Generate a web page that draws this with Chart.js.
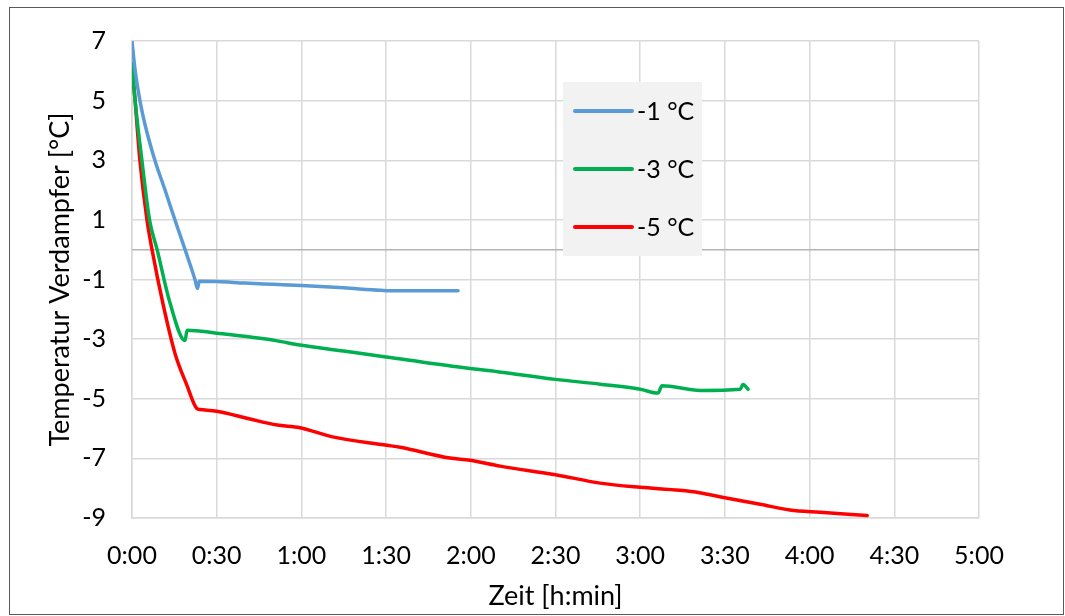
<!DOCTYPE html>
<html lang="de">
<head>
<meta charset="UTF-8">
<title>Temperatur Verdampfer</title>
<script src="https://cdn.jsdelivr.net/npm/chart.js"></script>
<style>
  html, body { margin: 0; padding: 0; background: #fff; }
  #wrap { width: 1065px; height: 616px; }
</style>
<script>
// Zeit in Minuten, Temperatur in °C
const t1 = [0, 1, 2.8, 4.6, 8.1, 11.7, 15.2, 18.8, 22.3, 23.2, 23.8, 30, 40, 50, 60, 75, 88, 93, 105, 115.5];
const v1 = [7, 6.1, 5, 4.2, 3, 2, 1, 0, -1, -1.3, -1.06, -1.07, -1.12, -1.16, -1.2, -1.28, -1.36, -1.38, -1.38, -1.38];

const t2 = [0, 1.1, 3.5, 6.2, 8.9, 13.5, 18.8, 19.5, 30, 51, 59.5, 75, 90, 115, 130, 150, 165.8, 180, 186.3, 187.7, 201.2, 215.4, 216.4, 218.2];
const v2 = [6.25, 5, 3, 1, 0, -1.8, -3.05, -2.7, -2.8, -3.05, -3.2, -3.4, -3.6, -3.93, -4.1, -4.35, -4.51, -4.68, -4.81, -4.56, -4.72, -4.68, -4.52, -4.68];

const t3 = [0, 1.1, 2.8, 5.3, 7.1, 11, 15.2, 19.5, 23, 24.1, 30, 41.8, 51.4, 59.5, 71, 90.3, 95, 112.6, 119.7, 130.4, 150, 165.8, 180, 194, 201, 210, 222.5, 233, 243.7, 260.4];
const v3 = [6.2, 5, 3, 1, 0, -1.83, -3.47, -4.56, -5.33, -5.36, -5.42, -5.68, -5.88, -5.97, -6.28, -6.56, -6.63, -6.99, -7.06, -7.26, -7.55, -7.83, -7.97, -8.07, -8.15, -8.32, -8.54, -8.73, -8.81, -8.92];

const seriesNames = ['-1 °C', '-3 °C', '-5 °C'];
const seriesColors = ['#5b9bd5', '#00b050', '#ff0000'];

const xMin = 0, xMax = 300, xStep = 30;
const yMin = -9, yMax = 7, yStep = 2;

function toPoints(ts, vs) {
    return ts.map((t, i) => ({ x: t, y: vs[i] }));
}

function fmtTime(m) {
    const h = Math.floor(m / 60);
    const mm = Math.round(m % 60);
    return h + ':' + (mm < 10 ? '0' + mm : mm);
}

const FONT = 'Lato, "Open Sans", sans-serif';

// Rahmen um das ganze Diagramm
const framePlugin = {
    id: 'frame',
    afterDraw(chart) {
        const c = chart.ctx;
        c.save();
        c.strokeStyle = '#595959';
        c.lineWidth = 1;
        c.strokeRect(9.5, 7.5, 1054, 607);
        c.restore();
    }
};

// Null-Linie etwas dunkler
const zeroPlugin = {
    id: 'zeroLine',
    beforeDatasetsDraw(chart) {
        const c = chart.ctx;
        const y = chart.scales.y.getPixelForValue(0);
        const a = chart.chartArea;
        c.save();
        c.strokeStyle = '#b4b4b4';
        c.lineWidth = 1.5;
        c.beginPath();
        c.moveTo(a.left, y);
        c.lineTo(a.right, y);
        c.stroke();
        c.restore();
    }
};

// Legende als Kasten im Diagramm
const boxLegend = {
    id: 'boxLegend',
    afterDraw(chart) {
        const c = chart.ctx;
        c.save();
        c.fillStyle = '#f2f2f2';
        c.fillRect(563, 82, 139, 174);
        const rows = [111, 169, 227];
        chart.data.datasets.forEach((ds, i) => {
            c.strokeStyle = ds.borderColor;
            c.lineWidth = 4;
            c.lineCap = 'round';
            c.beginPath();
            c.moveTo(575, rows[i]);
            c.lineTo(632, rows[i]);
            c.stroke();
            c.fillStyle = '#000';
            c.font = '25px ' + FONT;
            c.textBaseline = 'middle';
            c.textAlign = 'left';
            c.fillText(ds.label, 637, rows[i] + 1);
        });
        c.restore();
    }
};

window.addEventListener('load', function () {
    const ctx = document.getElementById('myChart');
    const datasets = [toPoints(t1, v1), toPoints(t2, v2), toPoints(t3, v3)].map((pts, i) => ({
        label: seriesNames[i],
        data: pts,
        borderColor: seriesColors[i],
        backgroundColor: seriesColors[i],
        borderWidth: 3.5,
        pointRadius: 0,
        cubicInterpolationMode: 'monotone',
        borderJoinStyle: 'round',
        borderCapStyle: 'round'
    }));

    new Chart(ctx, {
        type: 'line',
        data: { datasets: datasets },
        options: {
            responsive: false,
            animation: false,
            layout: { padding: { left: 0, top: 33, right: 86, bottom: 0 } },
            plugins: {
                legend: { display: false },
                tooltip: { enabled: false }
            },
            scales: {
                x: {
                    type: 'linear',
                    min: xMin, max: xMax,
                    afterFit(s) { s.height = 98; },
                    grid: { color: '#d9d9d9', lineWidth: 1.5, drawTicks: false },
                    border: { color: '#d9d9d9', width: 1.5 },
                    ticks: {
                        stepSize: xStep,
                        padding: 23,
                        color: '#000',
                        font: { family: FONT, size: 25 },
                        maxRotation: 0,
                        callback: (v) => fmtTime(v)
                    },
                    title: {
                        display: true,
                        text: 'Zeit [h:min]',
                        color: '#000',
                        font: { family: FONT, size: 27 },
                        padding: { top: 0, bottom: 4 }
                    }
                },
                y: {
                    min: yMin, max: yMax,
                    afterFit(s) { s.width = 132; },
                    afterBuildTicks(s) {
                        const arr = [];
                        for (let v = yMin; v <= yMax; v += yStep) arr.push({ value: v });
                        s.ticks = arr;
                    },
                    grid: { color: '#d9d9d9', lineWidth: 1.5, drawTicks: false },
                    border: { color: '#d9d9d9', width: 1.5 },
                    ticks: {
                        padding: 26,
                        color: '#000',
                        font: { family: FONT, size: 25 }
                    },
                    title: {
                        display: true,
                        text: 'Temperatur Verdampfer [°C]',
                        color: '#000',
                        font: { family: FONT, size: 27 },
                        padding: { top: 44, bottom: 0 }
                    }
                }
            }
        },
        plugins: [zeroPlugin, boxLegend, framePlugin]
    });
});
</script>
</head>
<body>
<div id="wrap">
    <canvas id="myChart" width="1065" height="616"></canvas>
</div>
</body>
</html>
